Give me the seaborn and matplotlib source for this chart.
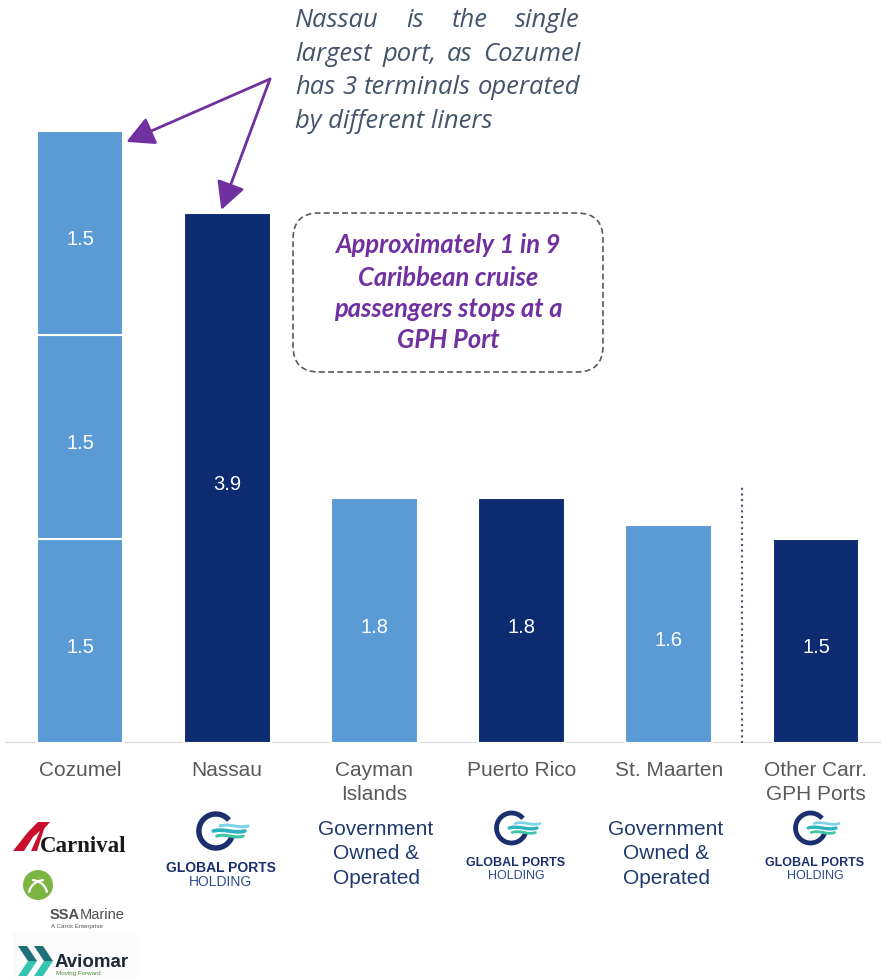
import numpy as np
import pandas as pd
import matplotlib
matplotlib.use("Agg")
import matplotlib.pyplot as plt
import seaborn as sns
from matplotlib.patches import FancyBboxPatch, Arc, Polygon, Circle, Rectangle, PathPatch
from matplotlib.path import Path

# ---------------------------------------------------------------- data
ports = ["Cozumel", "Nassau", "Cayman\nIslands", "Puerto Rico",
         "St. Maarten", "Other Carr.\nGPH Ports"]
cozumel_terminals = [1.5, 1.5, 1.5]          # three terminals, different liners
single_port_values = [3.9, 1.8, 1.8, 1.6, 1.5]  # Nassau ... Other Carr. GPH Ports
port_colors = ["#5B9BD5", "#0C2B71", "#5B9BD5", "#0C2B71", "#5B9BD5", "#0C2B71"]

callout_lines = ["Nassau is the single", "largest port, as Cozumel",
                 "has 3 terminals operated", "by different liners"]
box_lines = ["Approximately 1 in 9", "Caribbean cruise",
             "passengers stops at a", "GPH Port"]
gov_text = "Government\nOwned &\nOperated"

rows = [("Cozumel", i, v) for i, v in enumerate(cozumel_terminals)]
rows += [(p, 0, v) for p, v in zip(ports[1:], single_port_values)]
df = pd.DataFrame(rows, columns=["port", "layer", "value"])
df["base"] = df.groupby("port")["value"].cumsum() - df["value"]

# ---------------------------------------------------------------- figure
W, H = 881, 979
sns.set_theme(style="white")
plt.rcParams["font.family"] = ["Liberation Sans", "DejaVu Sans"]

fig = plt.figure(figsize=(W / 100, H / 100), dpi=100, facecolor="white")
T = fig.dpi_scale_trans


def P(x, y):
    """pixel position (from top-left) -> inches for dpi_scale_trans"""
    return (x / 100, (H - y) / 100)


BASE_PX = 744
X0_PX, STEP_PX = 80, 147.2
PX_PER_UNIT = 136
ax = fig.add_axes([0, (H - BASE_PX) / H, 1, BASE_PX / H])
ax.set_facecolor("white")

palette = dict(zip(ports, port_colors))
for layer, sub in df.groupby("layer"):
    sns.barplot(data=sub, x="port", y="value", hue="port", order=ports,
                hue_order=ports, palette=palette, width=0.59,
                bottom=float(sub["base"].iloc[0]), saturation=1,
                edgecolor="white", linewidth=1.5, errorbar=None,
                legend=False, ax=ax, zorder=2)

for c in ax.containers:
    if len(c):
        for t in ax.bar_label(c, fmt="%.1f", label_type="center",
                              color="white", fontsize=14.5):
            t.xyann = (0, -4)

ax.set_xlim(-X0_PX / STEP_PX, (W - X0_PX) / STEP_PX)
ax.set_ylim(0, BASE_PX / PX_PER_UNIT)
ax.set_xlabel("")
ax.set_ylabel("")
ax.set_yticks([])
ax.set_xticks(range(len(ports)))
ax.set_xticklabels(ports, fontsize=15, color="#595959", linespacing=1.3)
ax.tick_params(axis="x", length=0, pad=12.5)
sns.despine(ax=ax, left=True, bottom=True)
ax.axhline(0, xmin=6 / W, xmax=1, color="#D9D9D9", lw=1.5, zorder=1)

# dotted divider between single ports and the group of other GPH ports
ax.plot([4.5, 4.5], [0, (BASE_PX - 488) / PX_PER_UNIT], color="#44546A",
        lw=1.5, ls=(0, (1, 1.7)), dash_capstyle="butt", zorder=1)

# ---------------------------------------------------------------- arrows
PURPLE = "#7030A0"
arrow_kw = dict(arrowstyle="-|>,head_length=0.8,head_width=0.42",
                color=PURPLE, lw=2.0, shrinkA=0, shrinkB=0, mutation_scale=21)
origin = (270, H - 80)
ax.annotate("", xy=(0.59 / 2 + 0.02, cozumel_terminals[0] * 3 - 0.08),
            xytext=origin, textcoords="figure pixels", arrowprops=arrow_kw)
ax.annotate("", xy=(0.96, single_port_values[0] + 0.02),
            xytext=origin, textcoords="figure pixels", arrowprops=arrow_kw)

# ---------------------------------------------------------------- callout text (justified)
renderer = fig.canvas.get_renderer()


def width_px(t):
    return t.get_window_extent(renderer).width


callout_style = dict(fontfamily=["Open Sans", "DejaVu Sans"], style="italic",
                     color="#44546A", transform=T, va="baseline", ha="left")
probe = fig.text(0, 0, callout_lines[2], fontsize=16, **callout_style)
LEFT, RIGHT = 295, 580
callout_fs = 16 * (RIGHT - LEFT) / width_px(probe)
probe.remove()

baselines = [27, 61, 94, 128]
for i, (line, yb) in enumerate(zip(callout_lines, baselines)):
    if i == len(callout_lines) - 1:
        fig.text(*P(LEFT, yb), line, fontsize=callout_fs, **callout_style)
        continue
    words = [fig.text(0, 0, w, fontsize=callout_fs, **callout_style)
             for w in line.split()]
    widths = [width_px(w) for w in words]
    gap = (RIGHT - LEFT - sum(widths)) / (len(words) - 1)
    x = LEFT
    for w, wd in zip(words, widths):
        w.set_position(P(x, yb))
        x += wd + gap

# ---------------------------------------------------------------- dashed box
box = FancyBboxPatch(P(293, 373), 3.10, 1.59,
                     boxstyle="round,pad=0,rounding_size=0.26",
                     transform=T, facecolor="none", edgecolor="#595959",
                     lw=1.2, ls=(0, (3.5, 2)))
fig.add_artist(box)
box_style = dict(fontfamily=["Lato", "DejaVu Sans"], style="italic",
                 weight="bold", color=PURPLE, transform=T, ha="center",
                 va="baseline")
probe = fig.text(0, 0, box_lines[0], fontsize=16, **box_style)
box_fs = 16 * 226 / width_px(probe)
probe.remove()
for line, yb in zip(box_lines, [253, 286, 317, 348]):
    fig.text(*P(448, yb), line, fontsize=box_fs, **box_style)

# ---------------------------------------------------------------- operators row
NAVY_TXT = "#1F3A6E"
for cx in (376, 666):
    fig.text(*P(cx, 854), gov_text, fontsize=15, color=NAVY_TXT, ha="center",
             va="center", linespacing=1.38, transform=T)


def wave(x0, x1, y, color, lw):
    L = x1 - x0
    verts = [P(x0, y), P(x0 + L / 3, y - 3), P(x0 + 2 * L / 3, y + 3), P(x1, y)]
    pp = PathPatch(Path(verts, [Path.MOVETO, Path.CURVE4, Path.CURVE4, Path.CURVE4]),
                   transform=T, facecolor="none", edgecolor=color, lw=lw,
                   capstyle="round")
    fig.add_artist(pp)


def gph_logo(cx, icon_y, r, base1, base2, fs):
    g_cx = cx - 0.3 * r
    fig.add_artist(Arc(P(g_cx, icon_y), 2 * r / 100, 2 * r / 100, theta1=40,
                       theta2=345, transform=T, color="#1B2F6E",
                       lw=r * 0.32 * 0.72))
    x0, x1 = g_cx - 0.15 * r, g_cx + 1.9 * r
    wave(x0 + 0.4 * r, x1, icon_y - 0.3 * r, "#7FD3E8", r * 0.13)
    wave(x0, x1 - 0.2 * r, icon_y, "#2BB3C0", r * 0.16)
    wave(x0 + 0.2 * r, x1 - 0.3 * r, icon_y + 0.3 * r, "#3CC4A5", r * 0.13)
    fig.text(*P(cx, base1), "GLOBAL PORTS", fontsize=fs, weight="bold",
             color="#1B2F6E", ha="center", va="baseline", transform=T)
    fig.text(*P(cx, base2), "HOLDING", fontsize=fs, color="#2F4C8C",
             ha="center", va="baseline", transform=T)


gph_logo(221, 832, 17, 872, 886, 10)
gph_logo(516, 829, 15, 866, 879, 9)
gph_logo(815, 829, 15, 866, 879, 9)

# Carnival
fig.add_artist(Polygon([P(13, 852), P(28, 833), P(38, 823), P(50, 823),
                        P(44, 830), P(37, 852)], closed=True,
                       transform=T, facecolor="#C8102E", edgecolor="none"))
fig.add_artist(Polygon([P(24, 852), P(33, 838), P(40, 832), P(31, 852)],
                       closed=True, transform=T, facecolor="white",
                       edgecolor="none"))
fig.text(*P(40, 852), "Carnival", fontsize=16.5, weight="bold",
         fontfamily=["Liberation Serif", "DejaVu Serif"], color="#1A1A1A",
         ha="left", va="baseline", transform=T)

# SSA Marine
fig.add_artist(Circle(P(38, 886), 0.15, transform=T, facecolor="#7DB544",
                      edgecolor="none"))
fig.add_artist(Arc(P(45, 895), 0.32, 0.28, theta1=95, theta2=175, transform=T,
                   color="white", lw=1.6))
fig.add_artist(Arc(P(31, 895), 0.32, 0.28, theta1=5, theta2=85, transform=T,
                   color="white", lw=1.6))
ssa = fig.text(*P(50, 919), "SSA", fontsize=10.5, weight="bold",
               color="#505050", ha="left", va="baseline", transform=T)
fig.text(*P(50 + width_px(ssa), 919), "Marine", fontsize=10.5,
         color="#505050", ha="left", va="baseline", transform=T)
fig.text(*P(51, 928), "A Carrix Enterprise", fontsize=4.5, color="#555555",
         ha="left", va="baseline", transform=T)

# Aviomar
fig.add_artist(Rectangle(P(13, 979), 1.24, 0.46, transform=T,
                         facecolor="#FBFBFB", edgecolor="none", zorder=0))
for dx in (0, 16):
    fig.add_artist(Polygon([P(18 + dx, 947), P(27 + dx, 947), P(37 + dx, 962),
                            P(28 + dx, 962)], transform=T,
                           facecolor="#1F6F78", edgecolor="none"))
    fig.add_artist(Polygon([P(28 + dx, 962), P(37 + dx, 962), P(27 + dx, 977),
                            P(18 + dx, 977)], transform=T,
                           facecolor="#35C4B0", edgecolor="none"))
fig.text(*P(55, 967), "Aviomar", fontsize=13.5, weight="bold", color="#1E2A36",
         ha="left", va="baseline", transform=T)
fig.text(*P(56, 975), "Moving Forward", fontsize=4.5, color="#4C8A3C",
         ha="left", va="baseline", transform=T)

fig.savefig("out.png", dpi=100, facecolor="white")
